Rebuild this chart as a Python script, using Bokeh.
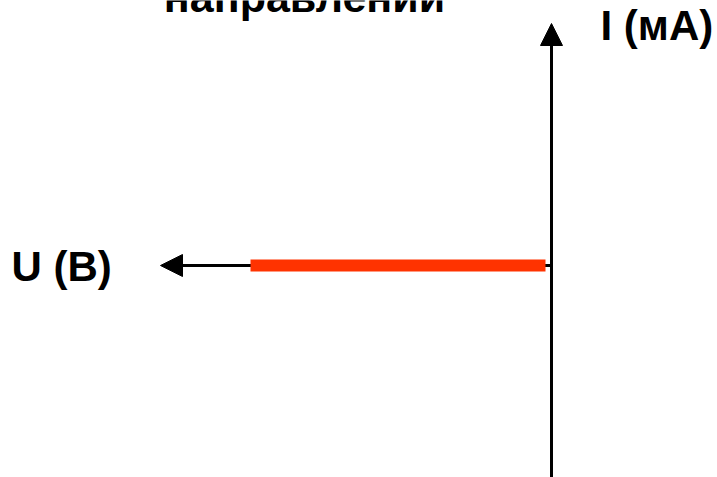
from bokeh.plotting import figure
from bokeh.models import Arrow, NormalHead, ColumnDataSource, Range1d
from bokeh.core.properties import value
from bokeh.embed import file_html
from bokeh.resources import INLINE

# Data (volts / arbitrary units)
u_curve = [-3.01, -0.06]     # reverse-bias voltage span
i_curve = [0.0, 0.0]         # current stays zero

# Axis extents
u_axis_end = -3.91
i_axis_top = 2.42
i_axis_bottom = -2.2

labels = ["направлений", "I (мА)", "U (В)"]
label_x = [-2.47, 0.49, -5.40]
label_y = [2.685, 2.40, -0.01]
label_size = ["43px", "42px", "42px"]
label_align = ["center", "left", "left"]

p = figure(width=717, height=477, output_backend="svg", toolbar_location=None,
           x_range=Range1d(-5.51, 1.66), y_range=Range1d(-2.12, 2.65),
           min_border=0, background_fill_color="white", border_fill_color="white")
p.axis.visible = False
p.grid.visible = False
p.outline_line_color = None

# axes with arrowheads
p.add_layout(Arrow(end=NormalHead(size=22, fill_color="black", line_color="black"),
                   x_start=0, y_start=i_axis_bottom, x_end=0, y_end=i_axis_top,
                   line_width=3, line_color="black", level="underlay"))
p.add_layout(Arrow(end=NormalHead(size=22, fill_color="black", line_color="black"),
                   x_start=0, y_start=0, x_end=u_axis_end, y_end=0,
                   line_width=3, line_color="black", level="underlay"))

# characteristic
p.line(u_curve, i_curve, line_width=12, line_color="#FF3300", line_cap="butt")

src = ColumnDataSource(dict(x=label_x, y=label_y, t=labels, s=label_size, a=label_align))
p.text(x="x", y="y", text="t", source=src, text_font=value("Liberation Sans"),
       text_font_style="bold", text_font_size="s", text_align="a",
       text_baseline="alphabetic", text_color="black")

open("out.html", "w").write(file_html(p, INLINE))
